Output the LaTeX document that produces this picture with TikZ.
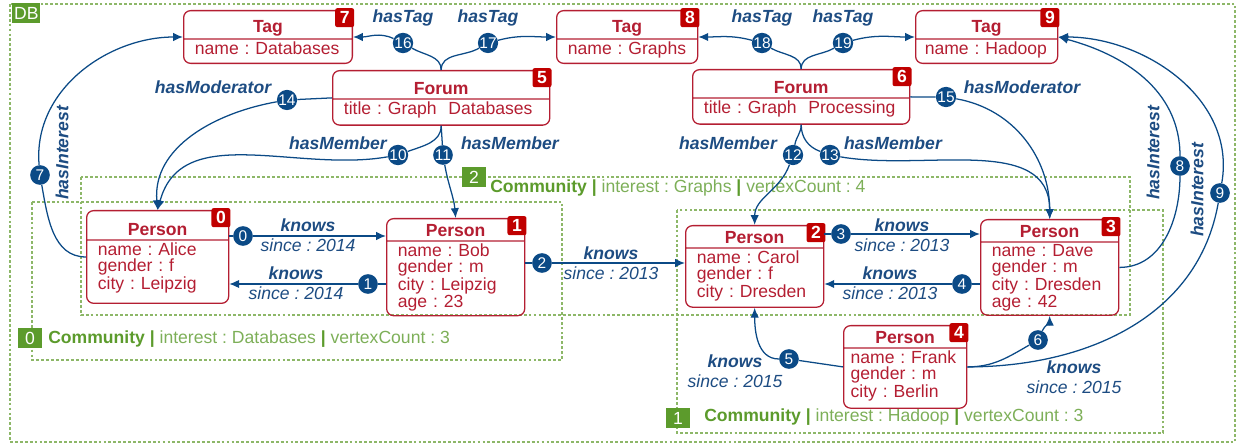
\documentclass[tikz,border=0pt]{standalone}
\usepackage{fontspec}
\setmainfont{Liberation Sans}
\usepackage{xcolor}
\definecolor{entityRed}{HTML}{B41E32}
\definecolor{idRed}{HTML}{C00000}
\definecolor{edgeBlue}{HTML}{0B4A86}
\definecolor{labelBlue}{HTML}{1D4C82}
\definecolor{commGreen}{HTML}{5C9B2C}
\definecolor{commLight}{HTML}{7DAF58}
\definecolor{frameGreen}{HTML}{8DB768}
\usepackage{tikz}
\usetikzlibrary{positioning,arrows.meta,shapes.multipart}
\newcommand{\nsize}{\fontsize{12.5pt}{11.2pt}\selectfont\frenchspacing}
\newcommand{\hdr}[2][10.5pt]{{\centering\bfseries\rule[-1.5pt]{0pt}{\dimexpr#1+1.5pt\relax}#2\par}}
\newcommand{\vpad}[1]{\rule[-#1]{0pt}{#1}}

\begin{document}
\begin{tikzpicture}[x=0.025cm, y=-0.025cm,
    every node/.style={font=\nsize},
    entity/.style={rectangle split, rectangle split parts=2, draw=entityRed,
      line width=0.9pt, rounded corners=5pt, text=entityRed, align=left,
      inner xsep=8pt, inner ysep=1.5pt, anchor=north west, text width=#1},
    vid/.style={fill=idRed, text=white, font=\nsize\bfseries, rounded corners=1.5pt,
      minimum size=13.5pt, inner sep=0pt, anchor=north east, xshift=1pt, yshift=1.5pt},
    eid/.style={circle, fill=edgeBlue, text=white, minimum size=14pt, inner sep=0pt,
      font=\fontsize{11pt}{11pt}\selectfont},
    e/.style={draw=edgeBlue, line width=0.9pt},
    ea/.style={e, -{Latex[length=7pt,width=6pt]}},
    rel/.style={text=labelBlue, font=\nsize\bfseries\itshape},
    prop/.style={text=labelBlue, font=\nsize\itshape, align=center},
    dotbox/.style={draw=frameGreen, line width=0.8pt, dash pattern=on 2pt off 1.5pt},
    cid/.style={fill=commGreen, text=white, minimum width=17pt, minimum height=14pt, inner sep=0pt},
    clabel/.style={text=commLight, anchor=west, inner sep=0pt}]
  \useasboundingbox (0,0) rectangle (1239,445);
  % graph and communities
  \draw[dotbox] (10,4) rectangle (1235,442);
  \node[cid, anchor=north west, minimum width=20pt] (db) at (12,3) {DB};
  \draw[dotbox] (32,202) rectangle (562,360);
  \draw[dotbox] (81,177) rectangle (1130,315);
  \draw[dotbox] (677,210) rectangle (1163,433);
  \node[cid] (c0) at (30,338) {0};
  \node[clabel] (c0t) at (48,339) {\textcolor{commGreen}{\bfseries Community |} interest : Databases \textcolor{commGreen}{\bfseries |} vertexCount : 3};
  \node[cid] (c2) at (474,177) {2};
  \node[clabel] (c2t) at (490,188) {\textcolor{commGreen}{\bfseries Community |} interest : Graphs \textcolor{commGreen}{\bfseries |} vertexCount : 4};
  \node[cid] (c1) at (678,418) {1};
  \node[clabel] (c1t) at (704,417) {\textcolor{commGreen}{\bfseries Community |} interest : Hadoop \textcolor{commGreen}{\bfseries |} vertexCount : 3};

  % tags and forums
  \node[entity=104pt] (t7) at (183,10) {\hdr[13.7pt]{Tag}\nodepart{two}name : Databases\vpad{4.3pt}};
  \node[entity=84.3pt] (t8) at (556,10) {\hdr[13.7pt]{Tag}\nodepart{two}name : Graphs\vpad{4.3pt}};
  \node[entity=88pt, inner xsep=6.5pt] (t9) at (915,10) {\hdr[13.7pt]{Tag}\nodepart{two}name : Hadoop\vpad{4.3pt}};
  \node[entity=138.4pt] (f5) at (332,70) {\hdr[14.7pt]{Forum}\nodepart{two}title : Graph~~Databases\vpad{5.7pt}};
  \node[entity=138.4pt] (f6) at (692,69) {\hdr[14.7pt]{Forum}\nodepart{two}title : Graph~~Processing\vpad{5.7pt}};
  % persons
  \node[entity=85pt] (p0) at (86,210) {\hdr[15.5pt]{Person}\nodepart{two}name : Alice\\gender : f\\city : Leipzig\vpad{8.2pt}};
  \node[entity=82.2pt] (p1) at (386,218) {\hdr{Person}\nodepart{two}name : Bob\\gender : m\\city : Leipzig\\age : 23\vpad{4pt}};
  \node[entity=82.2pt] (p2) at (685,225) {\hdr{Person}\nodepart{two}name : Carol\\gender : f\\city : Dresden\vpad{5.3pt}};
  \node[entity=82.2pt] (p3) at (980,219) {\hdr{Person}\nodepart{two}name : Dave\\gender : m\\city : Dresden\\age : 42\vpad{3.4pt}};
  \node[entity=77.5pt, inner xsep=5pt] (p4) at (843,325) {\hdr{Person}\nodepart{two}name : Frank\\gender : m\\city : Berlin\vpad{6pt}};
  \foreach \n/\v in {t7/7, t8/8, t9/9, f5/5, f6/6, p0/0, p1/1, p2/2, p3/3, p4/4}
    \node[vid] (v\v) at (\n.north east) {\v};

  % edge ids
  \foreach \n/\x/\y in {0/243/236, 1/368/284, 2/542/263, 3/841/234, 4/962/284,
      5/789/359, 6/1038/340, 7/40/175, 8/1180/166, 9/1220/193, 10/398/155,
      11/443/155, 12/793/155, 13/830/155, 14/287/100, 15/946/97, 16/403/43,
      17/488/43, 18/762/43, 19/843/43}
    \node[eid] (e\n) at (\x,\y) {\n};

  % knows
  \draw[e] (p0.east |- e0) -- (e0);  \draw[ea] (e0) -- (p1.west |- e0);
  \draw[e] (p1.west |- e1) -- (e1);  \draw[ea] (e1) -- (p0.east |- e1);
  \draw[e] (p1.east |- e2) -- (e2);  \draw[ea] (e2) -- (p2.west |- e2);
  \draw[e] (p2.east |- e3) -- (e3);  \draw[ea] (e3) -- (p3.west |- e3);
  \draw[e] (p3.west |- e4) -- (e4);  \draw[ea] (e4) -- (p2.east |- e4);
  \draw[e] (p4.west) -- (e5);  \draw[ea] (e5) to[out=180,in=-90] (p2.south);
  \draw[e] (p4.east) to[out=0,in=210] (e6);  \draw[ea] (e6) to[out=65,in=-90] (p3.south);
  % hasInterest
  \draw[e] (p0.west) to[out=180,in=-80] (e7);  \draw[ea] (e7) to[out=95,in=180] (t7.west);
  \draw[e] (p3.east) to[out=0,in=-90] (e8);  \draw[ea] (e8) to[out=90,in=-15] (t9.east);
  \draw[e] (p4.east) to[out=0,in=-100] (e9);  \draw[ea] (e9) to[out=80,in=0] (t9.east);
  % hasMember and hasModerator
  \draw[e] (f5.south) to[out=-90,in=20] (e10);  \draw[ea] (e10) to[out=190,in=75] (p0.north);
  \draw[e] (f5.south) -- (e11);  \draw[ea] (e11) to[out=-80,in=95] (p1.north);
  \draw[e] (f6.south) to[out=-90,in=80] (e12);  \draw[ea] (e12) to[out=-110,in=90] (p2.north);
  \draw[e] (f6.south) to[out=-90,in=160] (e13);  \draw[ea] (e13) to[out=-10,in=90] (p3.north);
  \draw[e] (f5.west) -- (e14);  \draw[ea] (e14) to[out=190,in=95] (p0.north);
  \draw[e] (f6.east) -- (e15);  \draw[ea] (e15) to[out=-10,in=90] (p3.north);
  % hasTag
  \draw[e] (f5.north) to[out=90,in=-30] (e16);  \draw[ea] (e16) to[out=155,in=0] (t7.east);
  \draw[e] (f5.north) to[out=90,in=210] (e17);  \draw[ea] (e17) to[out=15,in=180] (t8.west);
  \draw[e] (f6.north) to[out=90,in=-30] (e18);  \draw[ea] (e18) to[out=165,in=0] (t8.east);
  \draw[e] (f6.north) to[out=90,in=210] (e19);  \draw[ea] (e19) to[out=15,in=180] (t9.west);

  % labels
  \node[prop] (k0) at (308,235) {\textbf{knows}\\[3pt]since : 2014};
  \node[prop] (k1) at (296,283) {\textbf{knows}\\[3pt]since : 2014};
  \node[prop] (k2) at (611,263) {\textbf{knows}\\[3pt]since : 2013};
  \node[prop] (k3) at (902,235) {\textbf{knows}\\[3pt]since : 2013};
  \node[prop] (k4) at (890,283) {\textbf{knows}\\[3pt]since : 2013};
  \node[prop] (k5) at (735,371) {\textbf{knows}\\[3pt]since : 2015};
  \node[prop] (k6) at (1074,377) {\textbf{knows}\\[3pt]since : 2015};
  \node[rel, rotate=90] (r7) at (62,153) {hasInterest};
  \node[rel, rotate=90] (r8) at (1153,153) {hasInterest};
  \node[rel, rotate=90] (r9) at (1197,190) {hasInterest};
  \node[rel] (r10) at (338,143) {hasMember};
  \node[rel] (r11) at (510,143) {hasMember};
  \node[rel] (r12) at (728,143) {hasMember};
  \node[rel] (r13) at (893,143) {hasMember};
  \node[rel] (r14) at (213,87) {hasModerator};
  \node[rel] (r15) at (1022,87) {hasModerator};
  \node[rel] (r16) at (403,18) {hasTag};
  \node[rel] (r17) at (488,18) {hasTag};
  \node[rel] (r18) at (762,18) {hasTag};
  \node[rel] (r19) at (843,18) {hasTag};
\end{tikzpicture}
\end{document}
